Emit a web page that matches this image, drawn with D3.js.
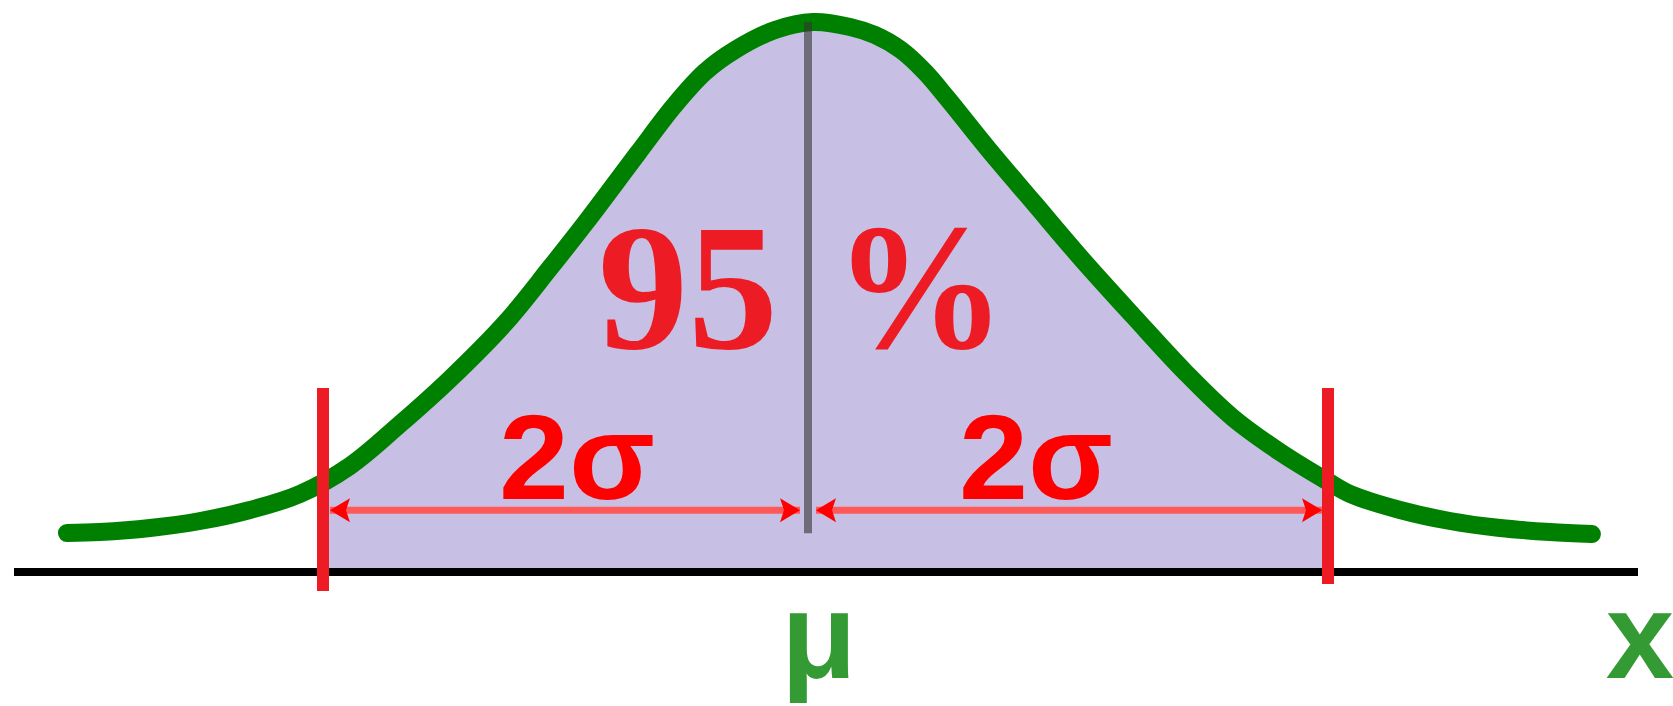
<!DOCTYPE html>
<html>
<head>
<meta charset="utf-8">
<script src="https://cdn.jsdelivr.net/npm/d3@7"></script>
<style>
  body { margin: 0; background: #fff; }
  svg { display: block; }
</style>
</head>
<body>
<div id="chart"></div>
<script>
// curve (x in sigma units, y = density)
var curveX = [-3.056, -2.920, -2.713, -2.507, -2.301, -2.095, -1.889, -1.682, -1.476, -1.245,
  -1.064, -0.915, -0.701, -0.553, -0.425, -0.301, -0.136, 0.019,
  0.162, 0.258, 0.358, 0.450, 0.535, 0.696, 0.869, 1.046, 1.258, 1.450, 1.631, 1.815,
  1.996, 2.085, 2.277, 2.469, 2.662, 2.854, 3.015];
var curveY = [0.0284, 0.0291, 0.0320, 0.0371, 0.0451, 0.0567, 0.0771, 0.1076, 0.1404, 0.1818,
  0.2211, 0.2545, 0.3047, 0.3389, 0.3636, 0.3796, 0.3942, 0.4000,
  0.3964, 0.3905, 0.3796, 0.3636, 0.3447, 0.3069, 0.2684, 0.2291, 0.1847, 0.1455, 0.1127, 0.0873,
  0.0662, 0.0567, 0.0451, 0.0371, 0.0320, 0.0291, 0.0276];

var mean = 0;
var bounds = [-2, 2];          // +/- 2 sigma
var shareLabel = ["95", "%"];
var sigmaLabels = ["2σ", "2σ"];
var axisLabels = ["μ", "x"];

var width = 1673, height = 706;

var svg = d3.select("#chart")
  .append("svg")
  .attr("width", width)
  .attr("height", height);

// the drawing is not quite symmetric, so piecewise x scale
var x = d3.scaleLinear()
  .domain([-2, 0, 2])
  .range([323, 808, 1328]);

var y = d3.scaleLinear()
  .domain([0, 0.4])
  .range([572, 22]);

var points = curveX.map(function (d, i) {
  return { x: d, y: curveY[i] };
});

// clip for the shaded 95% part
svg.append("clipPath")
  .attr("id", "band")
  .append("rect")
  .attr("x", x(bounds[0]))
  .attr("y", 0)
  .attr("width", x(bounds[1]) - x(bounds[0]))
  .attr("height", y(0));

var area = d3.area()
  .x(function (d) { return x(d.x); })
  .y0(y(0))
  .y1(function (d) { return y(d.y); })
  .curve(d3.curveCatmullRom.alpha(0.5));

svg.append("path")
  .datum(points)
  .attr("clip-path", "url(#band)")
  .attr("d", area)
  .style("fill", "#c8c0e4");

// base line
svg.append("line")
  .attr("x1", 14)
  .attr("x2", 1638)
  .attr("y1", y(0))
  .attr("y2", y(0))
  .style("stroke", "#000")
  .style("stroke-width", 8);

// arrow heads
var defs = svg.append("defs");
defs.append("marker")
  .attr("id", "head")
  .attr("viewBox", "-24 -16 26 32")
  .attr("markerWidth", 26)
  .attr("markerHeight", 32)
  .attr("markerUnits", "userSpaceOnUse")
  .attr("refX", 0)
  .attr("refY", 0)
  .attr("orient", "auto-start-reverse")
  .append("path")
  .attr("d", "M0,0L-20,-12L-16,0L-20,12Z")
  .style("fill", "#ff0000");

var arrowY = y(0.045);
var spans = [[bounds[0], mean], [mean, bounds[1]]];
svg.selectAll(".span")
  .data(spans)
  .enter()
  .append("line")
  .attr("class", "span")
  .attr("x1", function (d, i) { return x(d[0]) + (i == 0 ? 7 : 8); })
  .attr("x2", function (d, i) { return x(d[1]) - (i == 0 ? 8 : 6); })
  .attr("y1", arrowY)
  .attr("y2", arrowY)
  .attr("marker-start", "url(#head)")
  .attr("marker-end", "url(#head)")
  .style("stroke", "#ff5858")
  .style("stroke-width", 7);

// 2 sigma labels
svg.selectAll(".sigma")
  .data(sigmaLabels)
  .enter()
  .append("text")
  .attr("class", "sigma")
  .attr("x", function (d, i) { return i == 0 ? 499 : 959; })
  .attr("y", 499)
  .attr("textLength", function (d, i) { return i == 0 ? 156 : 154; })
  .attr("lengthAdjust", "spacingAndGlyphs")
  .style("font-family", "'Liberation Sans', Arial, sans-serif")
  .style("font-weight", "bold")
  .style("font-size", "121px")
  .style("fill", "#ff0000")
  .text(function (d) { return d; });

// 95 %
svg.append("text")
  .attr("x", x(mean) - 30)
  .attr("y", 348)
  .style("text-anchor", "end")
  .style("font-family", "'Liberation Serif', 'Times New Roman', serif")
  .style("font-weight", "bold")
  .style("font-size", "180px")
  .style("fill", "#ed1c24")
  .text(shareLabel[0]);

svg.append("text")
  .attr("x", x(mean) + 26)
  .attr("y", 348)
  .attr("textLength", 172)
  .attr("lengthAdjust", "spacingAndGlyphs")
  .style("font-family", "'Liberation Serif', 'Times New Roman', serif")
  .style("font-weight", "bold")
  .style("font-size", "180px")
  .style("fill", "#ed1c24")
  .text(shareLabel[1]);

// the bell curve
var line = d3.line()
  .x(function (d) { return x(d.x); })
  .y(function (d) { return y(d.y); })
  .curve(d3.curveCatmullRom.alpha(0.5));

svg.append("path")
  .datum(points)
  .attr("d", line)
  .style("fill", "none")
  .style("stroke", "#008000")
  .style("stroke-width", 18)
  .style("stroke-linecap", "round")
  .style("stroke-linejoin", "round");

// mean line
svg.append("line")
  .attr("x1", x(mean))
  .attr("x2", x(mean))
  .attr("y1", y(0.4))
  .attr("y2", arrowY + 23)
  .style("stroke", "#333")
  .style("stroke-opacity", 0.6)
  .style("stroke-width", 8);

// red 2 sigma markers
svg.selectAll(".bound")
  .data(bounds)
  .enter()
  .append("line")
  .attr("class", "bound")
  .attr("x1", function (d) { return x(d); })
  .attr("x2", function (d) { return x(d); })
  .attr("y1", 388)
  .attr("y2", function (d, i) { return i == 0 ? 591 : 584; })
  .style("stroke", "#ed1c24")
  .style("stroke-width", 12);

// axis labels
svg.selectAll(".axlab")
  .data(axisLabels)
  .enter()
  .append("text")
  .attr("class", "axlab")
  .attr("x", function (d, i) { return i == 0 ? x(mean) + 11 : 1640; })
  .attr("y", 678)
  .style("text-anchor", "middle")
  .style("font-family", "'Liberation Sans', Arial, sans-serif")
  .style("font-weight", "bold")
  .style("font-size", "123px")
  .style("fill", "#349a34")
  .text(function (d) { return d; });
</script>
</body>
</html>
